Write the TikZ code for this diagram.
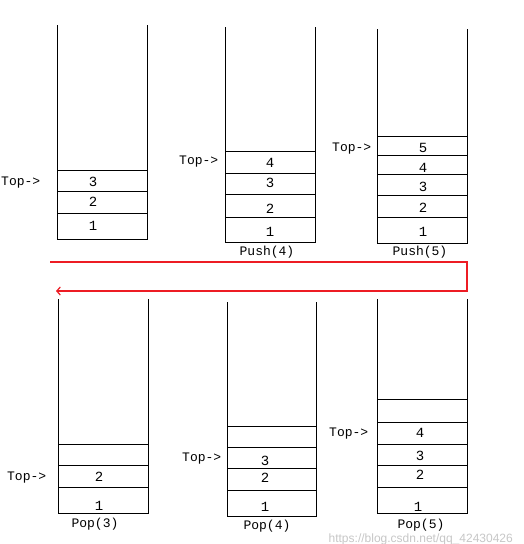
\documentclass[tikz,border=0pt]{standalone}
\usepackage{fontspec}
\setmainfont{Liberation Mono}
\newfontfamily\wmfont{Liberation Sans}
\usetikzlibrary{arrows.meta}
\definecolor{arrowred}{RGB}{237,28,36}
\begin{document}
\begin{tikzpicture}[x=1pt,y=-1pt,
  wall/.style={draw=black,line width=1pt},
  cellline/.style={draw=black,line width=1pt},
  num/.style={font=\fontsize{14}{14}\selectfont,inner sep=0pt},
  toplbl/.style={font=\fontsize{13}{13}\selectfont,inner sep=0pt,anchor=west},
  oplbl/.style={font=\fontsize{13}{13}\selectfont,inner sep=0pt},
  redline/.style={draw=arrowred,line width=1.2pt},
  wm/.style={font=\wmfont\fontsize{12}{12}\selectfont,text=black!22,inner sep=0pt,anchor=east}]
\useasboundingbox (0,0) rectangle (523,544);
\fill[white] (0,0) rectangle (523,544);

% watermark
\node[wm] (wmark) at (513,539.5) {https://blog.csdn.net/qq\_42430426};

% ---------- Stack 1 ----------
\draw[wall] (57,25) -- (57,239) -- (147,239) -- (147,25);
\foreach \yy in {170,191,213} \draw[cellline] (57,\yy) -- (147,\yy);
\node[num] (s1n3) at (93,182) {3};
\node[num] (s1n2) at (93,202) {2};
\node[num] (s1n1) at (93,226) {1};
\node[toplbl] (s1top) at (1,183) {Top->};

% ---------- Stack 2 ----------
\draw[wall] (225,27) -- (225,242) -- (315,242) -- (315,27);
\foreach \yy in {151,173,194,217} \draw[cellline] (225,\yy) -- (315,\yy);
\node[num] (s2n4) at (270,163) {4};
\node[num] (s2n3) at (270,183) {3};
\node[num] (s2n2) at (270,209) {2};
\node[num] (s2n1) at (270,232) {1};
\node[toplbl] (s2top) at (179,162) {Top->};
\node[oplbl] (s2op) at (267,252) {Push(4)};

% ---------- Stack 3 ----------
\draw[wall] (377,29) -- (377,243) -- (467,243) -- (467,29);
\foreach \yy in {136,155,174,195,217} \draw[cellline] (377,\yy) -- (467,\yy);
\node[num] (s3n5) at (423,148) {5};
\node[num] (s3n4) at (423,168) {4};
\node[num] (s3n3) at (423,187) {3};
\node[num] (s3n2) at (423,208) {2};
\node[num] (s3n1) at (423,232) {1};
\node[toplbl] (s3top) at (332,149) {Top->};
\node[oplbl] (s3op) at (420,252) {Push(5)};

% ---------- Red connector ----------
\coordinate (rs) at (50,262);
\coordinate (rc1) at (467,262);
\coordinate (rc2) at (467,291);
\coordinate (re) at (56,291);
\draw[redline,-{Straight Barb[length=3.5pt,width=8pt]}] (rs) -- (rc1) -- (rc2) -- (re);

% ---------- Stack 4 ----------
\draw[wall] (58,299) -- (58,513) -- (148,513) -- (148,299);
\foreach \yy in {444,465,487} \draw[cellline] (58,\yy) -- (148,\yy);
\node[num] (s4n2) at (99,477) {2};
\node[num] (s4n1) at (99,506) {1};
\node[toplbl] (s4top) at (7,478) {Top->};
\node[oplbl] (s4op) at (95,524) {Pop(3)};

% ---------- Stack 5 ----------
\draw[wall] (227,302) -- (227,516) -- (316,516) -- (316,302);
\foreach \yy in {426,447,468,490} \draw[cellline] (227,\yy) -- (316,\yy);
\node[num] (s5n3) at (265,461) {3};
\node[num] (s5n2) at (265,478) {2};
\node[num] (s5n1) at (265,507) {1};
\node[toplbl] (s5top) at (182,459) {Top->};
\node[oplbl] (s5op) at (267,526) {Pop(4)};

% ---------- Stack 6 ----------
\draw[wall] (377,299) -- (377,513) -- (467,513) -- (467,299);
\foreach \yy in {399,422,444,465,487} \draw[cellline] (377,\yy) -- (467,\yy);
\node[num] (s6n4) at (420,433) {4};
\node[num] (s6n3) at (420,456) {3};
\node[num] (s6n2) at (420,475) {2};
\node[num] (s6n1) at (418,507) {1};
\node[toplbl] (s6top) at (329,434) {Top->};
\node[oplbl] (s6op) at (421,525) {Pop(5)};
\end{tikzpicture}
\end{document}
